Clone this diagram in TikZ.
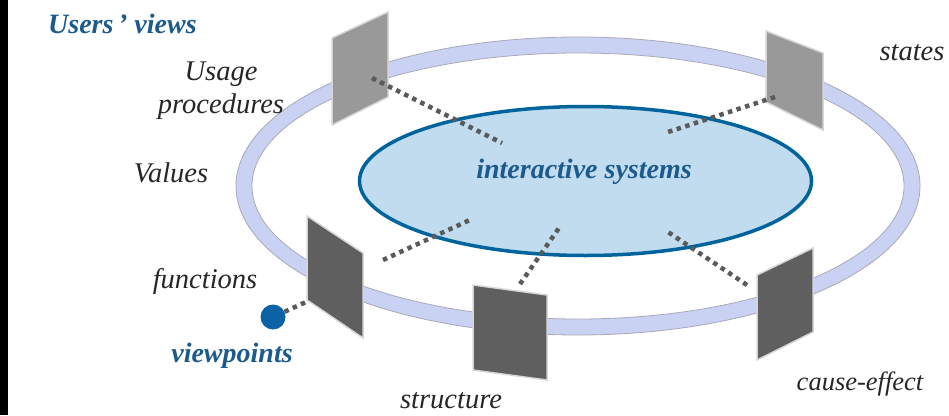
\documentclass[tikz,border=0pt]{standalone}
\usepackage{fontspec}
\setmainfont{Liberation Serif}
\definecolor{ringFill}{HTML}{C9D2F2}
\definecolor{ringEdge}{HTML}{A8A8B8}
\definecolor{innerFill}{HTML}{C0DCEE}
\definecolor{innerEdge}{HTML}{00649C}
\definecolor{titleblue}{HTML}{1C5A8E}
\definecolor{labelgray}{HTML}{262626}
\definecolor{panelL}{HTML}{999999}
\definecolor{panelD}{HTML}{5F5F5F}
\definecolor{panelEdge}{HTML}{D6D6D6}
\definecolor{dotgray}{HTML}{5A5A5A}
\definecolor{dotblue}{HTML}{0B62A4}
\begin{document}
\begin{tikzpicture}[x=1pt,y=-1pt,
  lbl/.style={font=\fontsize{28.5}{33}\selectfont\itshape, text=labelgray, inner sep=0pt},
  ttl/.style={font=\fontsize{28}{33}\selectfont\bfseries\itshape, text=titleblue, inner sep=0pt},
  panellight/.style={fill=panelL, draw=panelEdge, line width=1.5pt, line join=miter},
  paneldark/.style={fill=panelD, draw=panelEdge, line width=1.5pt, line join=miter},
  dots/.style={draw=dotgray, line width=4.5pt, dash pattern=on 4.5pt off 4.5pt}
]
\useasboundingbox (0,0) rectangle (949,415);
\fill[black] (0,0) rectangle (8,415);
% outer ring
\filldraw[fill=ringFill, draw=ringEdge, line width=0.8pt] (578,186) ellipse [x radius=342, y radius=149];
\filldraw[fill=white, draw=ringEdge, line width=0.8pt] (578,186) ellipse [x radius=326, y radius=133];
% inner ellipse
\filldraw[fill=innerFill, draw=innerEdge, line width=3.5pt] (585.5,181) ellipse [x radius=226, y radius=74.5];
% panels
\coordinate (p1a) at (332,38);  \coordinate (p1b) at (388,12);
\coordinate (p1c) at (388,97);  \coordinate (p1d) at (332,125);
\coordinate (p2a) at (766,31);  \coordinate (p2b) at (823,53);
\coordinate (p2c) at (823,130); \coordinate (p2d) at (766,102);
\coordinate (p3a) at (307,216); \coordinate (p3b) at (363,253);
\coordinate (p3c) at (363,338); \coordinate (p3d) at (307,300);
\coordinate (p4a) at (473,285); \coordinate (p4b) at (547,295);
\coordinate (p4c) at (547,380); \coordinate (p4d) at (473,370);
\coordinate (p5a) at (757,275); \coordinate (p5b) at (813,248);
\coordinate (p5c) at (813,332); \coordinate (p5d) at (757,360);
\draw[panellight] (p1a) -- (p1b) -- (p1c) -- (p1d) -- cycle;
\draw[panellight] (p2a) -- (p2b) -- (p2c) -- (p2d) -- cycle;
\draw[paneldark] (p3a) -- (p3b) -- (p3c) -- (p3d) -- cycle;
\draw[paneldark] (p4a) -- (p4b) -- (p4c) -- (p4d) -- cycle;
\draw[paneldark] (p5a) -- (p5b) -- (p5c) -- (p5d) -- cycle;
% dotted links
\coordinate (d1s) at (372,78);  \coordinate (d1e) at (502,143);
\coordinate (d2s) at (775,97);  \coordinate (d2e) at (665,133);
\coordinate (d3s) at (383,260); \coordinate (d3e) at (472,219);
\coordinate (d4s) at (520,284); \coordinate (d4e) at (559,228);
\coordinate (d5s) at (747,285); \coordinate (d5e) at (665,230);
\coordinate (d6e) at (306,302);
\draw[dots] (d1s) -- (d1e);
\draw[dots] (d2s) -- (d2e);
\draw[dots] (d3s) -- (d3e);
\draw[dots] (d4s) -- (d4e);
\draw[dots] (d5s) -- (d5e);
\node[circle, fill=dotblue, minimum size=25pt, inner sep=0pt] (vp) at (273,317) {};
\draw[dots] (vp) -- (d6e);
% texts
\node[ttl, anchor=base west] (title) at (48,33) {Users\,’ views};
\node[ttl, anchor=base] (sys) at (584,178) {interactive systems};
\node[ttl, anchor=base] (vpt) at (232,362) {viewpoints};
\node[lbl, anchor=base, align=center] (usage) at (221,113) {Usage\\procedures};
\node[lbl, anchor=base] (values) at (171,182) {Values};
\node[lbl, anchor=base] (func) at (205,288) {functions};
\node[lbl, anchor=base] (struct) at (451,408) {structure};
\node[lbl, anchor=base, font=\fontsize{26.5}{33}\selectfont\itshape] (cause) at (860,390) {cause-effect};
\node[lbl, anchor=base] (states) at (912,60) {states};
\end{tikzpicture}
\end{document}
